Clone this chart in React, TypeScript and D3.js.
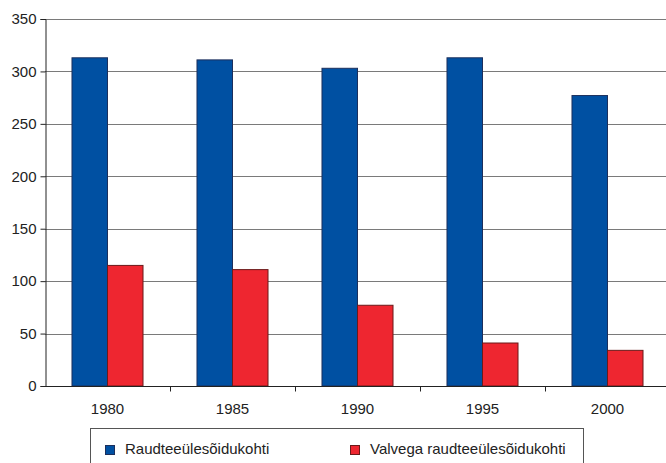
import { useEffect, useRef } from 'react';
import * as d3 from 'd3';

const years = ['1980', '1985', '1990', '1995', '2000'];
const crossings = [313, 311, 303, 313, 277];
const guarded = [115, 111, 77, 41, 34];
const seriesNames = ['Raudteeülesõidukohti', 'Valvega raudteeülesõidukohti'];
const yTicks = [0, 50, 100, 150, 200, 250, 300, 350];

export default function App() {
  const svgRef = useRef<SVGSVGElement>(null);

  useEffect(() => {
    if (!svgRef.current) return;
    const svg = d3.select(svgRef.current);
    svg.selectAll('*').remove();

    const width = 666;
    const height = 463;
    const margin = { top: 19, right: -4, bottom: 77, left: 45 };
    const chartWidth = width - margin.left - margin.right;
    const chartHeight = height - margin.top - margin.bottom;
    const font = '"Liberation Sans", Arial, sans-serif';
    const colors = ['#0050a2', '#ee2630'];
    const strokes = ['#1c2f5c', '#6a1a1a'];

    const g = svg.append('g').attr('transform', `translate(${margin.left},${margin.top})`);

    const x = d3.scaleBand().domain(years).range([0, chartWidth]);
    const y = d3.scaleLinear().domain([0, 350]).range([chartHeight, 0]);
    const inner = d3.scaleBand().domain(['0', '1']).range([0, x.bandwidth()]).paddingOuter(0.76).paddingInner(0);

    // gridlines
    g.selectAll('.grid')
      .data(yTicks.filter(d => d > 0))
      .enter()
      .append('line')
      .attr('x1', 0)
      .attr('x2', chartWidth)
      .attr('y1', d => Math.round(y(d)) + 0.5)
      .attr('y2', d => Math.round(y(d)) + 0.5)
      .attr('stroke', '#7a7a7a')
      .attr('stroke-width', 1);

    // bars
    const data = [crossings, guarded];
    data.forEach((vals, si) => {
      g.selectAll(`.bar${si}`)
        .data(vals)
        .enter()
        .append('rect')
        .attr('x', (d, i) => (x(years[i]) ?? 0) + (inner(String(si)) ?? 0))
        .attr('y', d => y(d))
        .attr('width', inner.bandwidth())
        .attr('height', d => chartHeight - y(d))
        .attr('fill', colors[si])
        .attr('stroke', strokes[si])
        .attr('stroke-width', 1);
    });

    // y axis
    const yAxis = d3.axisLeft(y).tickValues(yTicks).tickSize(5).tickPadding(4);
    const ya = g.append('g').attr('transform', 'translate(0.5,0)').call(yAxis);
    ya.select('.domain').attr('stroke', '#222');
    ya.selectAll('line').attr('stroke', '#222');
    ya.selectAll('text').style('font-family', font).style('font-size', '15px').attr('fill', '#222');

    // x axis
    const xa = g.append('g').attr('transform', `translate(0,${chartHeight + 0.5})`);
    xa.append('line').attr('x1', 0).attr('x2', chartWidth).attr('stroke', '#222');
    xa.selectAll('.tick')
      .data(years.slice(1))
      .enter()
      .append('line')
      .attr('x1', d => Math.round(x(d) ?? 0) + 0.5)
      .attr('x2', d => Math.round(x(d) ?? 0) + 0.5)
      .attr('y1', 0)
      .attr('y2', 5)
      .attr('stroke', '#222');
    xa.selectAll('.lbl')
      .data(years)
      .enter()
      .append('text')
      .attr('x', d => (x(d) ?? 0) + x.bandwidth() / 2)
      .attr('y', 27)
      .attr('text-anchor', 'middle')
      .style('font-family', font)
      .style('font-size', '15px')
      .attr('fill', '#222')
      .text(d => d);

    // legend
    const legend = svg.append('g');
    legend.append('rect')
      .attr('x', 90.5)
      .attr('y', 428.5)
      .attr('width', 493)
      .attr('height', 50)
      .attr('fill', 'white')
      .attr('stroke', '#555');
    const legendX = [105, 350];
    seriesNames.forEach((name, i) => {
      legend.append('rect')
        .attr('x', legendX[i] + 0.5)
        .attr('y', 445.5)
        .attr('width', 9)
        .attr('height', 9)
        .attr('fill', colors[i])
        .attr('stroke', strokes[i]);
      legend.append('text')
        .attr('x', legendX[i] + 20)
        .attr('y', 454)
        .style('font-family', font)
        .style('font-size', '15px')
        .attr('fill', '#222')
        .text(name);
    });
  }, []);

  return (
    <svg
      ref={svgRef}
      width={666}
      height={463}
      style={{ position: 'absolute', left: 0, top: 0, background: 'white' }}
    />
  );
}
